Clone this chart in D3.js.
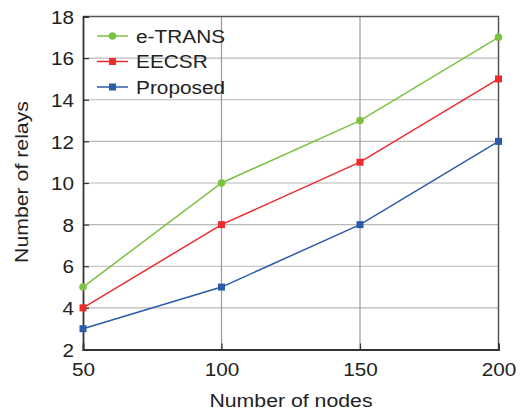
<!DOCTYPE html>
<html>
<head>
<meta charset="utf-8">
<script src="https://cdn.jsdelivr.net/npm/d3@7"></script>
<style>
  html, body { margin: 0; padding: 0; background: #fff; }
  text { font-family: Arial, "Liberation Sans", sans-serif; fill: #222; }
</style>
</head>
<body>
<svg id="chart" width="523" height="412"></svg>
<script>
const nodes = [50, 100, 150, 200];
const eTrans = [5, 10, 13, 17];
const eecsr = [4, 8, 11, 15];
const proposed = [3, 5, 8, 12];
const yTicks = [2, 4, 6, 8, 10, 12, 14, 16, 18];

const series = [
  { name: "e-TRANS", values: eTrans, color: "#7cc242", marker: "circle" },
  { name: "EECSR", values: eecsr, color: "#ee2b2b", marker: "square" },
  { name: "Proposed", values: proposed, color: "#2b5ca8", marker: "square" }
];

// the typeface is set slightly wide
const WIDE = 1.12;

const svg = d3.select("#chart");
const m = { left: 83, right: 498.5, top: 16.5, bottom: 349.5 };

const x = d3.scaleLinear().domain([50, 200]).range([m.left, m.right]);
const y = d3.scaleLinear().domain([2, 18]).range([m.bottom, m.top]);

// grid
const grid = svg.append("g");
grid.selectAll("line.h").data(yTicks.slice(1, -1)).enter().append("line")
  .attr("x1", m.left).attr("x2", m.right)
  .attr("y1", d => y(d)).attr("y2", d => y(d))
  .attr("stroke", "#b8b8b8").attr("stroke-width", 1.2);
grid.selectAll("line.v").data(nodes.slice(1, -1)).enter().append("line")
  .attr("y1", m.top).attr("y2", m.bottom)
  .attr("x1", d => x(d)).attr("x2", d => x(d))
  .attr("stroke", "#9a9a9a").attr("stroke-width", 1.2);

// frame: top and right
svg.append("path")
  .attr("d", `M${m.left},${m.top}H${m.right}V${m.bottom}`)
  .attr("fill", "none").attr("stroke", "#555").attr("stroke-width", 1.5);

// axes
const xAxis = d3.axisBottom(x).tickValues(nodes).tickSize(-6).tickFormat(d3.format("d"));
const yAxis = d3.axisLeft(y).tickValues(yTicks).tickSize(-6).tickFormat(d3.format("d"));

const gx = svg.append("g").attr("transform", `translate(0,${m.bottom})`).call(xAxis);
const gy = svg.append("g").attr("transform", `translate(${m.left},0)`).call(yAxis);
[gx, gy].forEach(g => {
  g.select(".domain").attr("stroke", "#333").attr("stroke-width", 1.8);
  g.selectAll(".tick line").attr("stroke", "#333").attr("stroke-width", 1.2);
  g.selectAll(".tick text").style("font-size", "18.5px")
    .style("font-family", "Arial, 'Liberation Sans', sans-serif").attr("fill", "#222");
});
gx.selectAll(".tick text").attr("y", 0).attr("dy", "0")
  .attr("transform", `translate(0,26.5) scale(${WIDE},1)`);
gy.selectAll(".tick text").attr("x", 0).attr("dy", "0.36em")
  .attr("transform", `translate(-9,0) scale(${WIDE},1)`);

// lines and markers
const line = d3.line().x((d, i) => x(nodes[i])).y(d => y(d));
series.forEach(s => {
  svg.append("path").datum(s.values)
    .attr("d", line).attr("fill", "none")
    .attr("stroke", s.color).attr("stroke-width", 1.5);
  const g = svg.append("g");
  if (s.marker === "circle") {
    g.selectAll("circle").data(s.values).enter().append("circle")
      .attr("cx", (d, i) => x(nodes[i])).attr("cy", d => y(d))
      .attr("r", 3.8).attr("fill", s.color);
  } else {
    g.selectAll("rect").data(s.values).enter().append("rect")
      .attr("x", (d, i) => x(nodes[i]) - 3.5).attr("y", d => y(d) - 3.5)
      .attr("width", 7).attr("height", 7).attr("fill", s.color);
  }
});

// legend
const legend = svg.append("g");
series.forEach((s, i) => {
  const cy = 36 + i * 25.5;
  legend.append("line").attr("x1", 97).attr("x2", 128).attr("y1", cy).attr("y2", cy)
    .attr("stroke", s.color).attr("stroke-width", 1.5);
  if (s.marker === "circle") {
    legend.append("circle").attr("cx", 112.5).attr("cy", cy).attr("r", 3.8).attr("fill", s.color);
  } else {
    legend.append("rect").attr("x", 109).attr("y", cy - 3.5).attr("width", 7).attr("height", 7).attr("fill", s.color);
  }
  legend.append("text").attr("transform", `translate(136,${cy}) scale(${WIDE},1)`)
    .attr("dy", "0.36em").style("font-size", "18.6px").text(s.name);
});

// axis titles
svg.append("text").attr("transform", `translate(291,407) scale(${WIDE},1)`)
  .attr("text-anchor", "middle").style("font-size", "19px").text("Number of nodes");
svg.append("text").attr("transform", `translate(27.5,182) rotate(-90) scale(${WIDE},1)`)
  .attr("text-anchor", "middle").style("font-size", "19px").text("Number of relays");
</script>
</body>
</html>
